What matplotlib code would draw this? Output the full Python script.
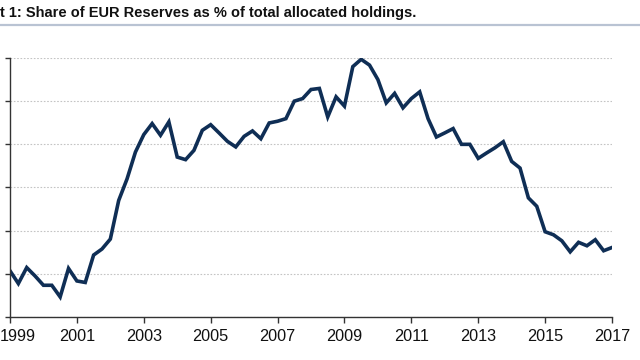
import numpy as np
import matplotlib
matplotlib.use("Agg")
import matplotlib.pyplot as plt
from matplotlib.lines import Line2D
from matplotlib.transforms import ScaledTranslation

# Quarterly share of EUR in allocated reserves (%), 1999Q1 .. 2017Q1
start_year = 1999
eur_share = [
    18.14, 17.55, 18.29, 17.90,   # 1999
    17.47, 17.47, 16.93, 18.25,   # 2000
    17.67, 17.60, 18.87, 19.15,   # 2001
    19.61, 21.40, 22.40, 23.64,   # 2002
    24.45, 24.96, 24.42, 25.04,   # 2003
    23.41, 23.29, 23.72, 24.65,   # 2004
    24.91, 24.53, 24.14, 23.88,   # 2005
    24.37, 24.62, 24.26, 24.99,   # 2006
    25.07, 25.19, 26.00, 26.12,   # 2007
    26.54, 26.59, 25.27, 26.20,   # 2008
    25.77, 27.60, 27.94, 27.67,   # 2009
    27.00, 25.92, 26.36, 25.69,   # 2010
    26.12, 26.43, 25.19, 24.34,   # 2011
    24.53, 24.73, 24.00, 24.00,   # 2012
    23.35, 23.60, 23.84, 24.12,   # 2013
    23.21, 22.90, 21.52, 21.13,   # 2014
    19.95, 19.81, 19.53, 19.02,   # 2015
    19.46, 19.30, 19.58, 19.07,   # 2016
    19.22,                        # 2017
]
x_ticks = list(range(1999, 2018, 2))
y_ticks = [16, 18, 20, 22, 24, 26, 28]
title = "t 1: Share of EUR Reserves as % of total allocated holdings."

dates = [start_year + i / 4 for i in range(len(eur_share))]

plt.rcParams["font.family"] = ["Liberation Sans Narrow", "Liberation Sans", "DejaVu Sans"]

fig = plt.figure(figsize=(6.4, 3.6), dpi=100)
ax = fig.add_axes([10 / 640, 1 - 317 / 360, 602 / 640, (317 - 58) / 360])

ax.plot(dates, eur_share, color="#0f2e55", lw=2.6, solid_joinstyle="miter")

ax.set_xlim(1999, 2017)
ax.set_ylim(16, 28)
ax.set_xticks(x_ticks)
ax.set_xticklabels([str(y) for y in x_ticks], fontsize=11.7, color="#111111")
ax.set_yticks(y_ticks)
ax.set_yticklabels([])

ax.grid(axis="y", linestyle=(0, (1.5, 1.5)), color="#c4c4c4", lw=0.8)
ax.set_axisbelow(True)
for side in ["top", "right"]:
    ax.spines[side].set_visible(False)
for side in ["left", "bottom"]:
    ax.spines[side].set_color("#333333")
    ax.spines[side].set_linewidth(1.0)
ax.tick_params(axis="x", direction="out", length=4, width=1, color="#333333", pad=4.5)
ax.tick_params(axis="y", direction="out", length=3.5, width=1, color="#333333")

# first year label sits at the very left edge
first = ax.get_xticklabels()[0]
first.set_horizontalalignment("left")
first.set_transform(first.get_transform() + ScaledTranslation(-0.10, 0, fig.dpi_scale_trans))

fig.text(0.0, 1 - 13.5 / 360, title, fontsize=10.5, fontweight="bold",
         color="#111111", ha="left", va="center")
fig.add_artist(Line2D([0, 1], [1 - 25 / 360] * 2, transform=fig.transFigure,
                      color="#b9c3d3", lw=1.6))

fig.savefig("out.png", dpi=100)
